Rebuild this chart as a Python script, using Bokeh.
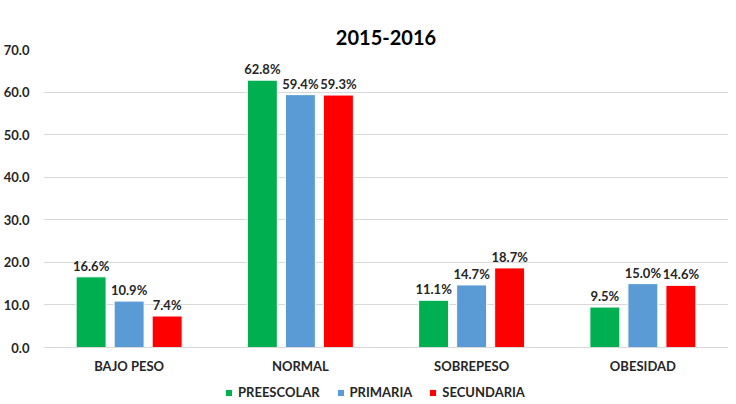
from bokeh.plotting import figure
from bokeh.models import ColumnDataSource, FactorRange, Legend, LegendItem, Range1d, FixedTicker, CustomJSTickFormatter, Span
from bokeh.transform import dodge
from bokeh.core.properties import value
from bokeh.embed import file_html
from bokeh.resources import INLINE

categories = ["BAJO PESO", "NORMAL", "SOBREPESO", "OBESIDAD"]
series_names = ["PREESCOLAR", "PRIMARIA", "SECUNDARIA"]
preescolar = [16.6, 62.8, 11.1, 9.5]
primaria = [10.9, 59.4, 14.7, 15.0]
secundaria = [7.4, 59.3, 18.7, 14.6]
colors = ["#00B050", "#5B9BD5", "#FF0000"]
y_ticks = [0, 10, 20, 30, 40, 50, 60, 70]

FONT = "Lato"

data = dict(cat=categories, zero=[0] * len(categories))
for name, vals in zip(series_names, [preescolar, primaria, secundaria]):
    data[name] = vals
    data[name + "_lbl"] = ["%.1f%%" % v for v in vals]
src = ColumnDataSource(data)

# extra room below zero holds the category names and the legend
p = figure(x_range=FactorRange(*categories), y_range=Range1d(-12.68, 70),
           frame_width=685, frame_height=352, output_backend="svg", toolbar_location=None,
           min_border_left=42, min_border_right=0, min_border_top=49, min_border_bottom=0)

p.title.text = "2015-2016"
p.title.align = "center"
p.title.text_font = FONT
p.title.text_font_style = "bold"
p.title.text_font_size = "20px"
p.title.text_color = "#000000"
p.title.offset = 0

p.add_layout(Span(location=0, dimension="width", line_color="#d9d9d9", line_width=1))

offsets = [-0.222, 0.0, 0.222]
renderers = []
for name, off, c in zip(series_names, offsets, colors):
    r = p.vbar(x=dodge("cat", off, range=p.x_range), top=name, bottom=0, width=0.175, source=src,
               fill_color=c, line_color="#ffffff", line_width=1)
    renderers.append(r)
    p.text(x=dodge("cat", off, range=p.x_range), y=name, text=name + "_lbl", source=src,
           text_align="center", text_baseline="bottom", y_offset=-3,
           text_font=value(FONT), text_font_style="bold", text_font_size="13px",
           text_color="#262626")

# category names under the baseline
p.text(x="cat", y="zero", text="cat", source=src, text_align="center", text_baseline="middle",
       y_offset=18, text_font=value(FONT), text_font_style="bold", text_font_size="13px",
       text_color="#262626")

legend = Legend(items=[LegendItem(label=n, renderers=[r]) for n, r in zip(series_names, renderers)],
                orientation="horizontal", location=(181, 1), border_line_color=None,
                label_text_font=FONT, label_text_font_style="bold", label_text_font_size="13px",
                label_text_color="#262626", glyph_width=9, glyph_height=9, spacing=16,
                label_standoff=5, background_fill_alpha=0, padding=0, margin=0,
                label_height=12)
p.add_layout(legend)

p.yaxis.ticker = FixedTicker(ticks=y_ticks)
p.yaxis.formatter = CustomJSTickFormatter(code="return tick.toFixed(1);")
p.yaxis.axis_line_color = None
p.yaxis.major_tick_line_color = None
p.yaxis.minor_tick_line_color = None
p.yaxis.major_label_text_font = FONT
p.yaxis.major_label_text_font_style = "bold"
p.yaxis.major_label_text_font_size = "13px"
p.yaxis.major_label_text_color = "#262626"
p.yaxis.major_label_standoff = 8

p.xaxis.visible = False

p.xgrid.grid_line_color = None
p.ygrid.grid_line_color = "#d9d9d9"
p.outline_line_color = None
p.x_range.range_padding = 0
p.x_range.group_padding = 0

open("out.html", "w").write(file_html(p, INLINE))
